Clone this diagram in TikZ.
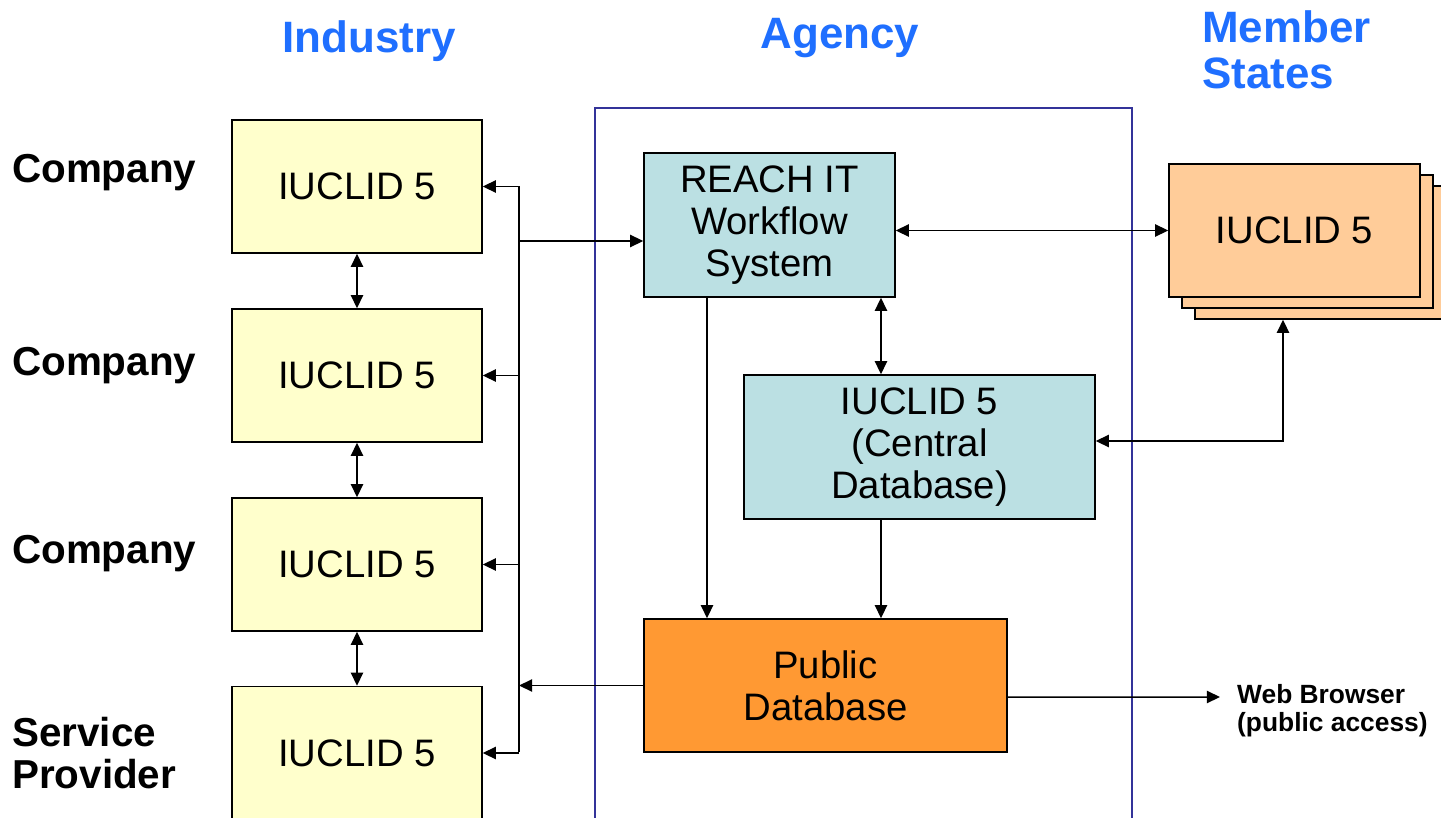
\documentclass[tikz,border=0pt]{standalone}
\usepackage{fontspec}
\setmainfont{Liberation Sans}
\usetikzlibrary{arrows.meta}

\definecolor{headblue}{RGB}{31,111,255}
\definecolor{frameblue}{RGB}{51,51,153}
\definecolor{compyellow}{RGB}{255,255,204}
\definecolor{agencyblue}{RGB}{187,224,227}
\definecolor{puborange}{RGB}{255,153,51}
\definecolor{msorange}{RGB}{255,204,153}

\tikzset{
  box/.style={draw, line width=0.85pt, align=center, inner sep=0pt,
    font=\fontsize{21.8}{24}\selectfont},
  compbox/.style={box, fill=compyellow, minimum width=5cm, minimum height=2.66cm},
  header/.style={text=headblue, font=\bfseries\fontsize{25}{26}\selectfont, align=left},
  rowlabel/.style={anchor=west, align=left, font=\bfseries\fontsize{23}{24}\selectfont},
  arr/.style={line width=0.85pt, -{Triangle[length=7.5pt,width=7pt]}},
  darr/.style={line width=0.85pt, {Triangle[length=7.5pt,width=7pt]}-{Triangle[length=7.5pt,width=7pt]}}
}

\begin{document}
\begin{tikzpicture}[x=0.02cm, y=-0.02cm]
      % Page size
      \useasboundingbox (0,0) rectangle (1441,818);
      \clip (0,0) rectangle (1441,818);

      % Column headers
      \node[header] (industry) at (369,41) {Industry};
      \node[header] (agency) at (840,38) {Agency};
      \node[header, anchor=west] (states) at (1196,50) {Member\\States};

      % Agency frame
      \draw[frameblue, line width=0.9pt] (595,108) rectangle (1132,840);

      % Industry side
      \node[compbox] (c1) at (357,186.5) {IUCLID 5};
      \node[compbox] (c2) at (357,375.5) {IUCLID 5};
      \node[compbox] (c3) at (357,564.5) {IUCLID 5};
      \node[compbox] (c4) at (357,753) {IUCLID 5};

      \node[rowlabel] (l1) at (6,173) {Company};
      \node[rowlabel] (l2) at (6,366) {Company};
      \node[rowlabel] (l3) at (6,554) {Company};
      \node[rowlabel] (l4) at (6,753) {Service\\Provider};

      % Agency boxes
      \node[box, fill=agencyblue, minimum width=5.02cm, minimum height=2.88cm]
        (reach) at (769.5,225) {REACH IT\\Workflow\\System};
      \node[box, fill=agencyblue, minimum width=7.02cm, minimum height=2.88cm]
        (central) at (919.5,447) {IUCLID 5\\(Central\\Database)};
      \node[box, fill=puborange, minimum width=7.26cm, minimum height=2.66cm]
        (public) at (825.5,685.5) {Public\\Database};

      % Member states stack
      \node[box, fill=msorange, minimum width=5.02cm, minimum height=2.66cm]
        (ms3) at (1320.5,252.5) {};
      \node[box, fill=msorange, minimum width=5.02cm, minimum height=2.66cm]
        (ms2) at (1307.5,241.5) {};
      \node[box, fill=msorange, minimum width=5.02cm, minimum height=2.66cm]
        (ms) at (1294.5,230.5) {IUCLID 5};

      \node[anchor=west, align=left, font=\bfseries\fontsize{15}{16}\selectfont]
        (web) at (1231,711) {Web Browser\\(public access)};
      \coordinate (browser) at (1220,697);

      % Bus between companies and agency
      \coordinate (bustop) at (519,186);
      \coordinate (busbot) at (519,752);
      \coordinate (reachin) at ([yshift=-0.32cm]reach.west);
      \draw[line width=0.85pt] (bustop) -- (busbot);
      \foreach \n in {c1,c2,c3,c4}
        \draw[arr] (bustop |- \n.east) -- (\n.east);
      \draw[arr] (bustop |- reachin) -- (reachin);
      \draw[arr] (public.west) -- (bustop |- public.west);

      % Company to company
      \draw[darr] (c1) -- (c2);
      \draw[darr] (c2) -- (c3);
      \draw[darr] (c3) -- (c4);

      % Agency connections
      \draw[darr] (reach.east |- ms.west) -- (ms.west);
      \draw[darr] ([xshift=2.23cm]reach.south) -- ([xshift=2.23cm]reach.south |- central.north);
      \draw[darr] ([yshift=0.12cm]central.east) -| ([xshift=-0.75cm]ms3.south);
      \draw[arr] ([xshift=-1.25cm]reach.south) -- ([xshift=-1.25cm]reach.south |- public.north);
      \draw[arr] ([xshift=-0.77cm]central.south) -- ([xshift=-0.77cm]central.south |- public.north);
      \draw[arr] ([yshift=-0.23cm]public.east) -- (browser);
\end{tikzpicture}
\end{document}
